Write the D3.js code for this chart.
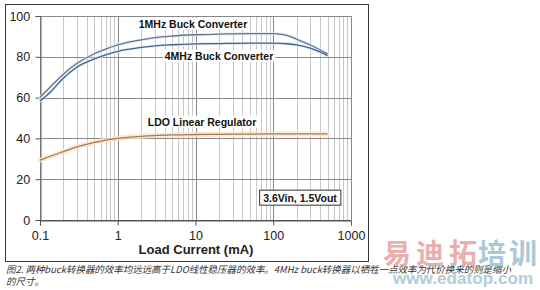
<!DOCTYPE html>
<html><head><meta charset="utf-8">
<script src="https://cdn.jsdelivr.net/npm/d3@7"></script>
<style>html,body{margin:0;padding:0;background:#fff;}svg{display:block;}</style>
</head><body>
<svg id="c" width="540" height="290"></svg>
<script>
const current = [0.1, 0.13, 0.2, 0.3, 0.5, 0.7, 1, 2, 3, 5, 10, 20, 50, 100, 150, 200, 300, 500];
const buck1MHz = [60.2, 64.5, 71.5, 76.8, 81.5, 83.8, 85.8, 88.3, 89.4, 90.2, 90.8, 91.1, 91.4, 91.4, 90.5, 88.6, 85.8, 81.4];
const buck4MHz = [58.3, 62.0, 69.5, 75.0, 79.0, 81.0, 82.7, 84.6, 85.4, 85.9, 86.3, 86.5, 86.7, 86.7, 86.4, 85.8, 84.2, 80.6];
const ldo      = [29.3, 31.0, 33.5, 35.8, 38.0, 39.2, 40.0, 41.0, 41.4, 41.7, 41.9, 42.0, 42.1, 42.2, 42.2, 42.2, 42.2, 42.2];
const yTicks = [0, 20, 40, 60, 80, 100];
const xTicks = [0.1, 1, 10, 100, 1000];
const xTickLabels = ["0.1", "1", "10", "100", "1000"];
const seriesLabels = ["1MHz Buck Converter", "4MHz Buck Converter", "LDO Linear Regulator"];
const conditionLabel = "3.6Vin, 1.5Vout";
const xTitle = "Load Current (mA)";
const caption1 = "图2. 两种buck转换器的效率均远远高于LDO线性稳压器的效率。4MHz buck转换器以牺牲一点效率为代价换来的则是缩小";
const caption2 = "的尺寸。";

const svg = d3.select("#c");
const L = 40, R = 351, T = 16, B = 220;
const x = d3.scaleLog().domain([0.1, 1000]).range([L, R]);
const y = d3.scaleLinear().domain([0, 100]).range([B, T]);
const font = "'Liberation Sans', Arial, sans-serif";

// outer frame
svg.append("rect").attr("x", 5.5).attr("y", 4.5).attr("width", 363).attr("height", 257)
  .attr("fill", "none").attr("stroke", "#3a3a3a").attr("stroke-width", 1);

// minor vertical grid
const minor = [];
for (let d = 0.1; d < 1000; d *= 10) for (let k = 2; k <= 9; k++) minor.push(d * k);
svg.append("g").selectAll("line").data(minor).join("line")
  .attr("x1", d => Math.round(x(d)) + 0.5).attr("x2", d => Math.round(x(d)) + 0.5)
  .attr("y1", T).attr("y2", B).attr("stroke", "#c8c8c8").attr("stroke-width", 1);
// major vertical grid
svg.append("g").selectAll("line").data(xTicks).join("line")
  .attr("x1", d => Math.round(x(d)) + 0.5).attr("x2", d => Math.round(x(d)) + 0.5)
  .attr("y1", T).attr("y2", B).attr("stroke", "#8a8a8a").attr("stroke-width", 1);
// horizontal grid
svg.append("g").selectAll("line").data(yTicks).join("line")
  .attr("x1", L).attr("x2", R)
  .attr("y1", d => Math.round(y(d)) + 0.5).attr("y2", d => Math.round(y(d)) + 0.5)
  .attr("stroke", d => d === 0 ? "#555" : "#8a8a8a").attr("stroke-width", 1);

// axes
const yAxis = svg.append("g").attr("transform", `translate(${L + 0.5},0)`)
  .call(d3.axisLeft(y).tickValues(yTicks).tickSize(5).tickPadding(4));
yAxis.select(".domain").attr("stroke", "#666");
yAxis.selectAll("line").attr("stroke", "#555");
yAxis.selectAll("text").attr("font-family", font).attr("font-size", 12.5).attr("fill", "#222").attr("dx", "-0.1em");

const xAxis = svg.append("g").attr("transform", `translate(0,${B + 0.5})`)
  .call(d3.axisBottom(x).tickValues(xTicks).tickFormat((d, i) => xTickLabels[i]).tickSize(5).tickPadding(6));
xAxis.select(".domain").attr("stroke", "#555");
xAxis.selectAll("line").attr("stroke", "#555");
xAxis.selectAll("text").attr("font-family", font).attr("font-size", 12.5).attr("fill", "#222");

svg.append("text").attr("x", 196).attr("y", 254).attr("text-anchor", "middle")
  .attr("font-family", font).attr("font-weight", "bold").attr("font-size", 13).attr("fill", "#222")
  .text(xTitle);

// curves
const line = (vals) => d3.line().x((d, i) => x(current[i])).y(d => y(d)).curve(d3.curveMonotoneX)(vals);
const series = [
  {v: ldo, c: "#a47a4e", halo: "#f9e4cf", hw: 5},
  {v: buck4MHz, c: "#40638f", halo: "#dce8f2", hw: 3},
  {v: buck1MHz, c: "#62778a", halo: "#dfe9f2", hw: 3}
];
series.forEach(s => {
  svg.append("path").attr("d", line(s.v)).attr("fill", "none").attr("stroke", s.halo)
    .attr("stroke-width", s.hw).attr("stroke-linecap", "round").attr("opacity", 0.8);
});
series.forEach(s => {
  svg.append("path").attr("d", line(s.v)).attr("fill", "none").attr("stroke", s.c)
    .attr("stroke-width", 1.3);
});

// series labels with white background
const labelPos = [[193, 24], [219, 56], [202, 122]];
seriesLabels.forEach((t, i) => {
  const g = svg.append("g");
  const txt = g.append("text").attr("x", labelPos[i][0]).attr("y", labelPos[i][1])
    .attr("dy", "0.35em").attr("text-anchor", "middle")
    .attr("font-family", font).attr("font-weight", "bold").attr("font-size", 10.5).attr("fill", "#111").text(t);
  const bb = txt.node().getBBox();
  g.insert("rect", "text").attr("x", bb.x - 2).attr("y", bb.y).attr("width", bb.width + 4).attr("height", bb.height)
    .attr("fill", "#fff");
});

// condition box
{
  const g = svg.append("g");
  const txt = g.append("text").attr("x", 300).attr("y", 198).attr("dy", "0.35em").attr("text-anchor", "middle")
    .attr("font-family", font).attr("font-weight", "bold").attr("font-size", 10.5).attr("fill", "#111").text(conditionLabel);
  const bb = txt.node().getBBox();
  g.insert("rect", "text").attr("x", bb.x - 3.5).attr("y", bb.y - 1.5).attr("width", bb.width + 7).attr("height", bb.height + 3)
    .attr("fill", "#fff").attr("stroke", "#333").attr("stroke-width", 1);
}

// caption
const cjk = "'Noto Sans CJK SC', sans-serif";
svg.append("text").attr("x", 6).attr("y", 273).attr("font-family", cjk).attr("font-style", "italic")
  .attr("font-size", 9.5).attr("fill", "#333").attr("textLength", 505).attr("lengthAdjust", "spacingAndGlyphs").text(caption1);
svg.append("text").attr("x", 6).attr("y", 285).attr("font-family", cjk).attr("font-style", "italic")
  .attr("font-size", 9.5).attr("fill", "#333").text(caption2);

// watermark
svg.append("text").attr("x", 383).attr("y", 264).attr("font-family", cjk).attr("font-weight", "bold")
  .attr("font-size", 28).attr("fill", "#e6a0a0").attr("opacity", 0.85).attr("textLength", 94).text("易迪拓");
svg.append("text").attr("x", 478).attr("y", 264).attr("font-family", cjk).attr("font-weight", "bold")
  .attr("font-size", 28).attr("fill", "#9cc0cf").attr("opacity", 0.85).attr("textLength", 59).text("培训");
svg.append("text").attr("x", 393).attr("y", 284).attr("font-family", font).attr("font-weight", "bold")
  .attr("font-size", 17).attr("fill", "#a6c4d2").attr("opacity", 0.85).attr("textLength", 140).text("www.edatop.com");
</script>
</body></html>
